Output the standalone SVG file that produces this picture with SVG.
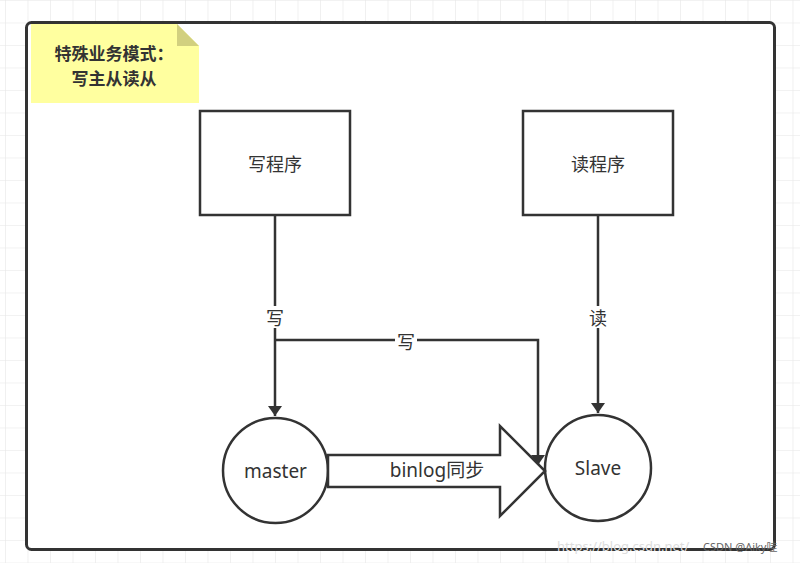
<svg xmlns="http://www.w3.org/2000/svg" width="800" height="563" viewBox="0 0 800 563">
<defs>
<pattern id="grid" x="5" y="0" width="22.5" height="22.5" patternUnits="userSpaceOnUse">
<path d="M0 0 H22.5 M0 0 V22.5" fill="none" stroke="#e6e6e6" stroke-width="1.2"/>
</pattern>
<marker id="ah" viewBox="0 0 10 14" refX="10" refY="7" markerWidth="10" markerHeight="14" markerUnits="userSpaceOnUse" orient="auto">
<path d="M0 0 L10 7 L0 14 Z" fill="#333"/>
</marker>
<style>
.box{fill:#fff;stroke:#333;stroke-width:2.5}
.line{fill:none;stroke:#333;stroke-width:2.5}
.t{font-family:"Noto Sans","Noto Sans CJK SC",sans-serif;font-size:19px;fill:#333;text-anchor:middle;dominant-baseline:central}
.lbl{font-family:"Noto Sans CJK SC",sans-serif;font-size:18px;fill:#333;text-anchor:middle;dominant-baseline:central}
.note{font-family:"Noto Sans CJK SC",sans-serif;font-size:17px;font-weight:bold;fill:#333;text-anchor:middle;dominant-baseline:central}
</style>
</defs>
<rect width="800" height="563" fill="#fff"/>
<rect width="800" height="563" fill="url(#grid)"/>
<rect x="26.5" y="22.5" width="748" height="527" rx="5" fill="#fff" stroke="#333" stroke-width="3"/>
<g id="note">
<path d="M31 24 H177 L199 46 V103 H31 Z" fill="#ffff9f"/>
<path d="M177 24 L199 46 H177 Z" fill="#d2d07f"/>
<text class="note" x="114" y="52">特殊业务模式：</text>
<text class="note" x="114" y="77">写主从读从</text>
</g>
<g id="write-program">
<rect class="box" x="200" y="111" width="150" height="104"/>
<text class="lbl" x="275" y="163">写程序</text>
</g>
<g id="read-program">
<rect class="box" x="523" y="111" width="150" height="104"/>
<text class="lbl" x="598" y="163">读程序</text>
</g>
<g id="master">
<circle class="box" cx="275.5" cy="470.5" r="52.5"/>
<text class="t" x="275.5" y="471">master</text>
</g>
<g id="slave">
<circle class="box" cx="598" cy="468" r="53"/>
<text class="t" x="598" y="468">Slave</text>
</g>
<g id="connectors">
<path class="line" d="M275 215 V416" marker-end="url(#ah)"/>
<path class="line" d="M275 340 H538 V465" marker-end="url(#ah)"/>
<path class="line" d="M598 215 V413" marker-end="url(#ah)"/>
<path d="M328 455 H500 V426 L545 471 L500 516 V487 H328 Z" fill="#fff" stroke="#333" stroke-width="2.5" stroke-linejoin="miter"/>
<rect x="265" y="306" width="20" height="22" fill="#fff"/>
<text class="lbl" x="275" y="317">写</text>
<rect x="395" y="330" width="22" height="22" fill="#fff"/>
<text class="lbl" x="406" y="341">写</text>
<rect x="588" y="306" width="20" height="22" fill="#fff"/>
<text class="lbl" x="598" y="317">读</text>
<text class="t" x="437" y="470">binlog同步</text>
</g>
<text x="557" y="546" font-family="Noto Sans,sans-serif" font-size="13" fill="#ddd" dominant-baseline="central">https://blog.csdn.net/</text>
<text x="703" y="546" font-family="Noto Sans,Noto Sans CJK SC,sans-serif" font-size="11" fill="#666" dominant-baseline="central">CSDN @Aiky哇</text>
</svg>
